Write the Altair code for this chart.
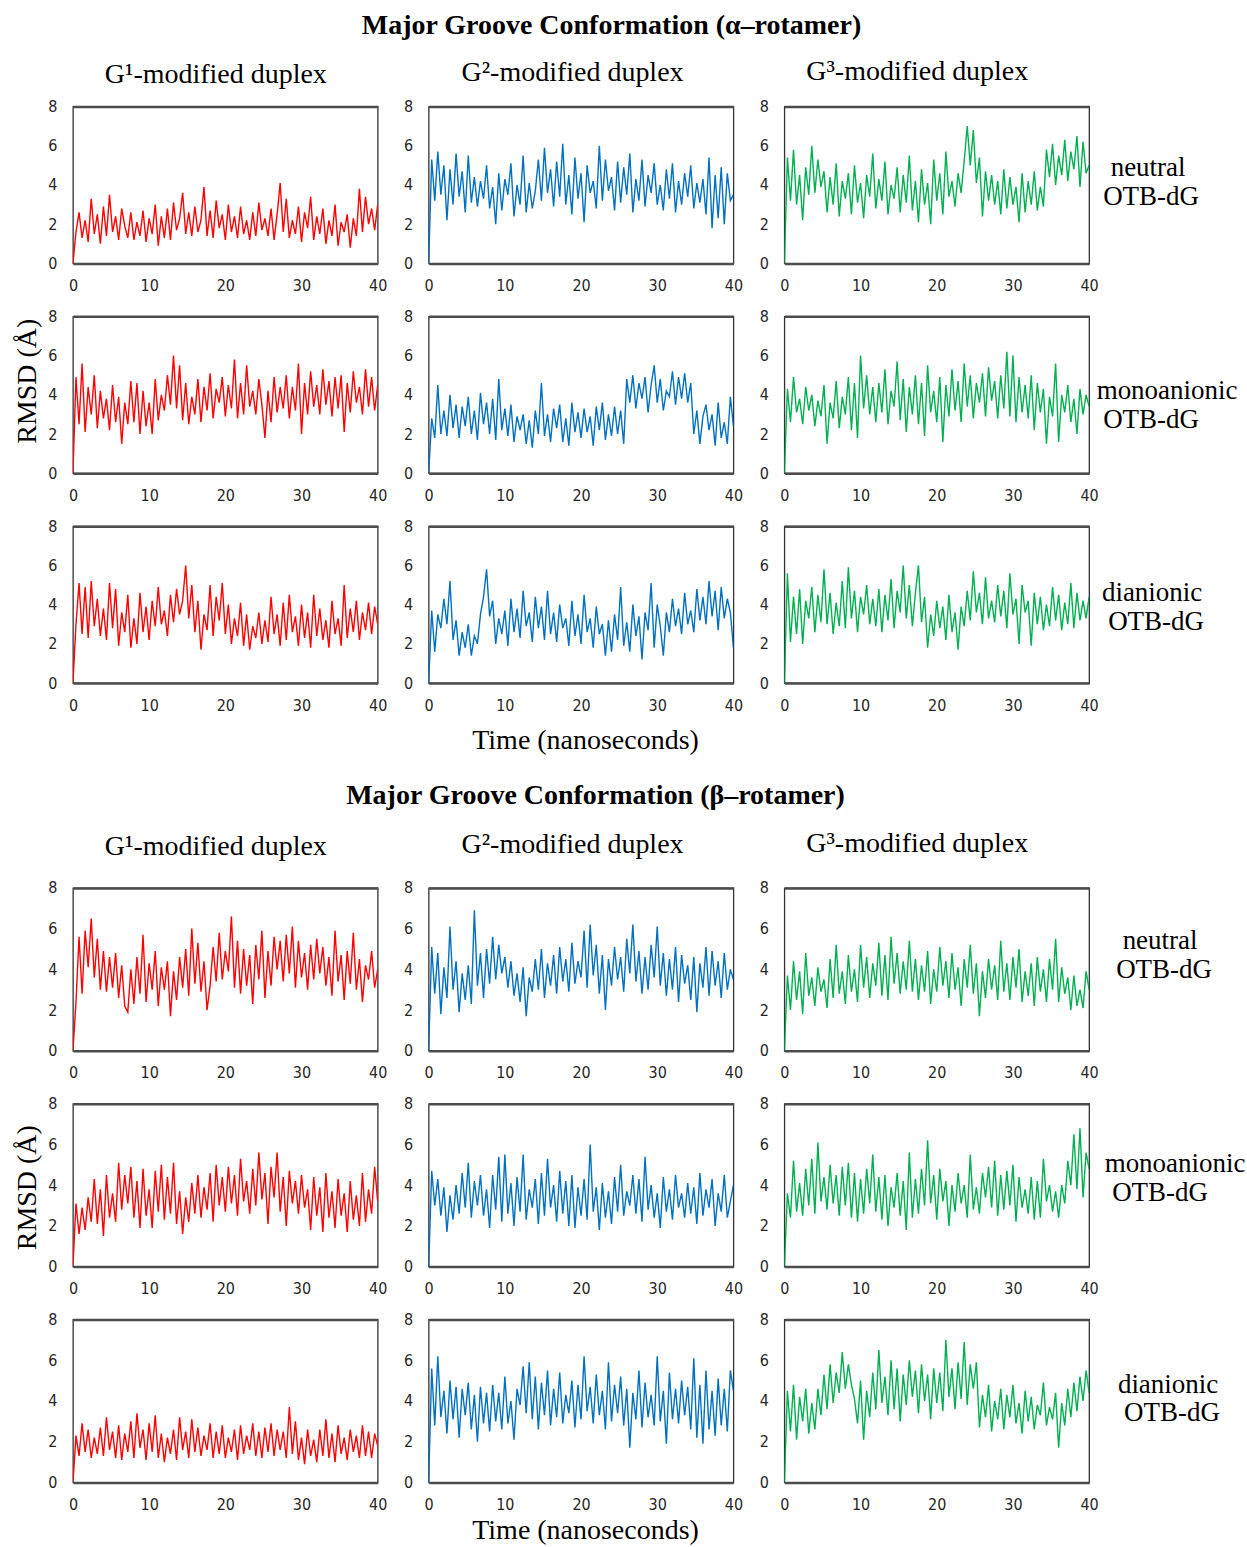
import altair as alt
import pandas as pd

SERIF = "Liberation Serif, Times New Roman, serif"
SANS = "Liberation Sans Narrow, DejaVu Sans Condensed, sans-serif"

TITLES = ["Major Groove Conformation (α–rotamer)", "Major Groove Conformation (β–rotamer)"]
COLUMN_HEADERS = ["G¹-modified duplex", "G²-modified duplex", "G³-modified duplex"]
ROW_LABELS = [("neutral", "OTB-dG"), ("monoanionic", "OTB-dG"), ("dianionic", "OTB-dG")]
COLORS = ["#FF0000", "#0070C0", "#00B050"]
X_TICKS = [0, 10, 20, 30, 40]
Y_TICKS = [0, 2, 4, 6, 8]
X_TITLE = "Time (nanoseconds)"
Y_TITLE = "RMSD (Å)"

# ---- alpha rotamer: RMSD samples (0..40 ns, evenly spaced) ----
A_G1_NEU = [0,
    1.6, 2.6, 1.3, 2.2, 1.1, 3.3, 1.5, 2.5, 1.0, 2.9,
    1.4, 3.5, 1.6, 2.4, 1.2, 2.8, 1.9, 1.3, 2.6, 1.2,
    2.1, 1.4, 2.7, 1.1, 2.3, 1.5, 3.0, 0.9, 2.4, 1.3,
    2.8, 1.2, 3.1, 1.7, 2.3, 3.6, 1.5, 2.6, 1.4, 2.9,
    1.6, 2.2, 3.9, 1.4, 2.7, 1.3, 3.2, 1.8, 2.5, 1.2,
    3.0, 1.6, 2.4, 1.3, 2.9, 1.5, 2.2, 1.2, 2.6, 1.4,
    3.1, 1.7, 2.3, 1.4, 2.8, 1.2, 2.5, 4.1, 1.6, 3.3,
    1.3, 2.2, 1.5, 2.9, 1.1, 2.6, 1.8, 3.4, 1.2, 2.4,
    1.5, 2.8, 1.0, 2.2, 1.4, 3.0, 0.9, 2.1, 1.6, 2.5,
    0.8, 2.3, 1.4, 3.8, 1.6, 3.4, 2.0, 2.8, 1.7, 3.0]
A_G2_NEU = [0,
    5.3, 3.2, 5.7, 3.5, 5.0, 2.2, 4.8, 3.0, 5.6, 3.4,
    4.7, 2.6, 5.5, 3.1, 4.4, 2.9, 4.2, 3.3, 5.0, 2.8,
    3.9, 2.0, 4.6, 2.7, 4.3, 3.5, 5.1, 2.4, 4.0, 3.0,
    5.5, 2.6, 4.1, 2.8, 3.7, 5.3, 3.2, 5.9, 3.6, 4.8,
    2.9, 5.2, 3.4, 6.1, 3.0, 4.5, 2.5, 5.4, 3.3, 4.6,
    2.1, 5.0, 3.6, 4.2, 2.8, 6.0, 3.2, 5.3, 3.7, 4.4,
    2.7, 5.2, 3.1, 4.9, 3.5, 5.6, 2.6, 4.3, 3.2, 5.3,
    2.9, 4.5, 3.6, 5.1, 3.0, 4.0, 2.7, 4.8, 3.3, 5.1,
    2.6, 4.2, 3.0, 4.6, 3.4, 5.0, 2.8, 4.1, 3.1, 4.3,
    2.5, 5.4, 1.8, 4.5, 2.3, 4.9, 2.0, 4.6, 3.2, 3.5]
A_G3_NEU = [0,
    5.4, 3.2, 5.8, 3.0, 4.5, 2.2, 4.9, 3.5, 6.0, 3.6,
    5.3, 3.9, 4.7, 2.6, 4.4, 3.0, 5.1, 2.4, 4.2, 3.3,
    4.6, 2.5, 5.0, 3.1, 4.1, 2.3, 4.5, 3.4, 5.6, 2.8,
    4.3, 3.2, 5.2, 2.5, 4.0, 3.3, 4.9, 2.6, 4.5, 3.1,
    5.5, 2.7, 4.2, 2.1, 4.8, 3.0, 4.1, 2.0, 5.3, 3.2,
    4.6, 2.5, 5.7, 3.4, 4.2, 2.9, 4.6, 3.6, 5.2, 7.0,
    5.0, 6.8, 4.1, 5.4, 2.4, 4.7, 3.2, 4.5, 3.0, 4.2,
    2.5, 4.8, 2.8, 4.4, 3.0, 3.9, 2.1, 4.6, 2.6, 4.2,
    3.0, 4.7, 2.7, 3.9, 2.9, 5.8, 4.4, 6.1, 4.0, 5.5,
    4.5, 6.3, 4.2, 5.7, 4.8, 6.5, 3.9, 6.2, 4.6, 5.0]
A_G1_MONO = [0,
    4.9, 2.5, 5.6, 2.1, 4.4, 3.0, 5.0, 2.3, 4.2, 2.8,
    3.8, 2.2, 4.5, 2.6, 3.9, 1.5, 3.6, 2.5, 4.7, 2.6,
    4.6, 2.0, 4.2, 2.4, 3.6, 2.0, 4.8, 2.7, 4.0, 3.2,
    5.0, 3.5, 6.0, 3.3, 5.5, 2.7, 4.6, 2.5, 3.9, 3.0,
    4.8, 2.6, 4.4, 3.2, 5.1, 2.8, 4.3, 3.6, 4.9, 2.9,
    4.5, 3.3, 5.8, 2.8, 4.6, 3.0, 5.5, 3.4, 4.2, 3.0,
    4.8, 3.5, 1.8, 4.2, 2.6, 4.9, 3.1, 4.4, 3.3, 5.0,
    2.8, 4.4, 3.2, 5.6, 2.0, 4.6, 3.0, 5.2, 3.4, 4.5,
    3.0, 5.3, 3.5, 4.7, 2.9, 4.9, 3.3, 5.0, 2.1, 4.6,
    3.1, 5.2, 3.6, 4.4, 3.0, 5.3, 3.4, 4.9, 3.2, 4.5]
A_G2_MONO = [0,
    2.8, 1.8, 4.5, 2.0, 3.2, 1.9, 4.0, 2.3, 3.5, 1.8,
    3.4, 2.4, 3.9, 2.0, 3.2, 1.7, 4.1, 2.5, 3.6, 2.0,
    3.8, 1.7, 4.8, 2.2, 3.3, 1.9, 3.5, 1.6, 2.9, 2.2,
    3.0, 1.5, 2.7, 1.3, 3.2, 2.0, 4.6, 1.9, 3.0, 1.6,
    3.3, 2.3, 3.5, 1.6, 2.8, 1.4, 3.6, 2.1, 3.1, 1.8,
    3.3, 2.1, 2.9, 1.4, 3.4, 2.2, 3.6, 1.7, 3.0, 1.9,
    3.4, 2.0, 3.2, 1.5, 4.8, 3.6, 5.0, 3.3, 4.6, 3.8,
    4.9, 3.1, 4.5, 5.5, 3.6, 4.8, 3.2, 4.2, 3.9, 5.2,
    3.5, 4.9, 3.8, 5.1, 3.6, 4.6, 2.0, 3.2, 1.5, 2.9,
    3.5, 2.2, 3.0, 1.4, 3.6, 1.8, 2.6, 1.5, 3.9, 2.4]
A_G3_MONO = [0,
    4.3, 2.6, 4.9, 3.1, 3.8, 2.5, 4.4, 3.2, 4.0, 2.4,
    3.7, 2.9, 4.5, 1.5, 3.6, 2.8, 4.7, 2.3, 3.9, 3.0,
    4.9, 2.2, 4.6, 1.8, 6.0, 3.3, 5.0, 3.0, 4.4, 2.6,
    4.6, 3.1, 5.3, 2.5, 4.2, 3.4, 5.7, 2.7, 4.8, 2.1,
    4.4, 3.0, 5.0, 2.5, 4.6, 1.9, 5.5, 3.1, 4.2, 2.6,
    4.9, 1.6, 4.5, 2.9, 5.3, 3.2, 4.7, 2.6, 5.6, 3.4,
    5.0, 2.8, 4.6, 3.6, 5.1, 2.9, 5.4, 3.7, 4.7, 2.8,
    5.0, 3.3, 6.2, 2.9, 6.0, 2.6, 4.9, 3.1, 4.5, 2.8,
    5.0, 2.2, 4.6, 3.1, 4.3, 1.5, 3.9, 2.9, 5.6, 1.6,
    4.0, 3.1, 4.5, 2.6, 3.8, 2.0, 4.3, 3.0, 4.0, 3.4]
A_G1_DI = [0,
    3.0, 5.1, 2.5, 4.9, 2.3, 5.2, 2.9, 4.3, 2.4, 3.8,
    2.2, 5.1, 2.8, 4.8, 1.9, 3.6, 2.6, 4.5, 1.8, 3.3,
    2.0, 4.6, 2.6, 3.9, 2.2, 4.2, 2.9, 4.9, 3.0, 3.7,
    2.4, 4.5, 3.1, 4.8, 3.5, 4.2, 6.0, 3.3, 5.0, 2.6,
    4.2, 1.7, 3.5, 2.7, 5.0, 2.4, 4.4, 3.2, 5.1, 2.5,
    4.0, 2.0, 3.3, 2.4, 4.1, 1.9, 3.5, 1.7, 2.9, 2.3,
    3.6, 2.0, 3.2, 2.1, 4.4, 2.5, 3.5, 1.9, 4.1, 2.2,
    4.5, 2.6, 3.4, 1.9, 4.0, 2.3, 3.6, 1.8, 4.5, 2.4,
    3.8, 2.2, 3.2, 1.8, 4.2, 2.5, 3.3, 1.9, 5.0, 2.3,
    3.8, 2.6, 4.2, 2.2, 3.6, 2.7, 4.1, 2.5, 3.9, 3.0]
A_G2_DI = [0,
    3.7, 1.6, 3.5, 2.8, 4.3, 3.0, 5.2, 2.2, 3.2, 1.4,
    2.6, 1.8, 3.0, 1.4, 2.4, 2.0, 3.5, 4.4, 5.8, 3.4,
    4.2, 2.0, 3.3, 2.5, 3.7, 1.9, 4.3, 2.6, 3.8, 2.3,
    4.7, 2.9, 3.6, 2.1, 4.4, 2.8, 3.9, 2.2, 4.7, 2.5,
    3.6, 2.1, 4.0, 2.8, 3.3, 1.9, 4.2, 2.4, 3.5, 2.0,
    4.5, 2.6, 3.3, 1.8, 3.9, 2.5, 3.0, 1.4, 3.2, 1.6,
    3.5, 2.2, 4.9, 1.9, 3.1, 1.6, 4.0, 2.4, 3.4, 1.2,
    3.6, 2.7, 5.1, 1.8, 4.0, 2.9, 1.4, 3.6, 2.6, 4.3,
    2.9, 3.8, 2.5, 4.6, 3.0, 3.7, 2.6, 4.8, 3.2, 4.4,
    3.0, 5.2, 3.4, 4.7, 2.7, 4.9, 3.3, 4.3, 3.6, 1.8]
A_G3_DI = [0,
    5.6, 2.1, 4.4, 2.5, 4.8, 2.0, 4.2, 3.3, 4.9, 2.6,
    4.5, 3.1, 5.8, 3.0, 4.6, 2.5, 4.1, 2.9, 5.2, 2.8,
    5.9, 3.3, 4.7, 2.6, 4.4, 3.5, 5.0, 3.0, 4.3, 2.9,
    4.8, 2.6, 4.5, 3.2, 5.3, 2.8, 4.7, 3.6, 6.0, 3.3,
    5.0, 2.9, 4.6, 6.0, 3.1, 4.4, 1.8, 3.5, 2.4, 4.2,
    2.8, 3.9, 2.2, 4.5, 2.6, 3.6, 1.7, 3.9, 2.9, 4.7,
    3.2, 5.7, 3.6, 4.6, 3.0, 5.4, 3.3, 4.2, 3.1, 5.0,
    3.4, 4.7, 2.8, 5.6, 3.5, 4.3, 2.0, 5.0, 3.6, 4.2,
    1.9, 4.6, 3.0, 4.4, 2.7, 4.0, 2.9, 4.9, 3.2, 4.5,
    2.7, 4.1, 3.0, 5.1, 2.8, 4.6, 3.2, 4.2, 3.3, 4.4]

# ---- beta rotamer ----
B_G1_NEU = [0,
    2.4, 5.6, 2.8, 5.9, 4.1, 6.5, 3.6, 5.5, 3.0, 4.9,
    2.9, 4.6, 3.1, 4.8, 2.6, 4.2, 2.2, 1.9, 4.0, 2.3,
    4.6, 2.8, 5.7, 2.4, 4.3, 3.0, 4.9, 2.2, 4.1, 3.0,
    4.4, 1.7, 3.9, 2.5, 4.6, 3.1, 5.0, 2.7, 6.0, 3.3,
    5.3, 2.9, 4.4, 2.0, 3.2, 5.1, 3.4, 5.8, 3.5, 4.9,
    3.9, 6.6, 3.1, 5.4, 2.8, 5.0, 3.2, 4.7, 2.3, 5.2,
    3.5, 5.9, 2.6, 4.9, 3.2, 5.6, 4.0, 5.4, 3.4, 5.7,
    3.8, 6.1, 3.1, 5.4, 3.6, 4.8, 3.0, 5.2, 3.5, 5.5,
    3.8, 5.1, 3.2, 4.6, 2.7, 5.9, 3.4, 4.7, 2.5, 4.9,
    3.3, 5.8, 3.0, 4.5, 2.4, 4.2, 3.5, 4.9, 3.1, 4.0]
B_G2_NEU = [0,
    5.1, 2.8, 4.8, 1.8, 4.1, 2.6, 6.1, 3.0, 4.4, 1.9,
    3.8, 2.5, 4.2, 2.3, 6.9, 3.2, 4.8, 2.6, 5.0, 3.3,
    5.6, 3.5, 5.2, 3.8, 4.6, 3.1, 4.4, 2.7, 3.8, 2.4,
    4.1, 1.7, 3.6, 2.9, 4.5, 3.0, 5.0, 2.6, 4.3, 3.2,
    4.7, 2.8, 5.1, 3.4, 4.5, 2.9, 5.3, 3.3, 4.4, 3.6,
    5.9, 3.1, 6.2, 3.7, 5.2, 2.8, 4.7, 2.0, 4.5, 3.2,
    5.1, 3.5, 4.6, 2.9, 5.5, 3.8, 6.2, 3.4, 4.9, 2.8,
    4.6, 3.0, 5.2, 3.6, 6.1, 3.2, 4.8, 2.7, 4.5, 3.0,
    5.1, 2.4, 4.7, 3.3, 4.2, 2.5, 4.6, 1.9, 4.3, 3.1,
    5.1, 2.7, 4.9, 3.2, 4.4, 2.6, 4.8, 3.0, 4.0, 3.5]
B_G3_NEU = [0,
    3.7, 2.0, 4.4, 2.5, 3.9, 1.8, 4.8, 2.7, 3.6, 2.2,
    4.1, 2.9, 3.5, 2.1, 4.5, 2.6, 5.2, 2.8, 3.9, 2.3,
    4.7, 2.9, 4.0, 2.4, 5.2, 3.1, 4.6, 2.6, 4.3, 3.2,
    5.3, 2.7, 4.7, 2.5, 5.6, 3.3, 4.8, 2.8, 4.4, 3.0,
    5.4, 2.9, 4.5, 2.5, 4.2, 2.9, 4.9, 2.3, 4.0, 2.9,
    5.1, 3.2, 4.4, 2.6, 4.8, 3.0, 4.1, 2.2, 4.5, 3.1,
    5.2, 2.8, 4.3, 1.7, 3.9, 2.6, 4.5, 3.0, 4.2, 2.5,
    5.4, 2.9, 4.3, 2.5, 4.6, 3.1, 5.0, 2.4, 3.9, 2.7,
    4.3, 2.2, 4.6, 2.9, 4.0, 2.4, 4.5, 3.0, 5.5, 2.4,
    4.1, 2.8, 3.6, 2.0, 3.7, 2.2, 3.0, 2.1, 3.9, 3.0]
B_G1_MONO = [0,
    3.1, 1.6, 2.9, 1.8, 3.4, 2.2, 4.3, 2.1, 3.8, 1.5,
    4.5, 2.4, 3.6, 2.2, 5.1, 2.8, 4.5, 3.1, 4.9, 2.4,
    4.2, 1.9, 4.8, 2.5, 3.8, 1.9, 4.7, 2.7, 5.0, 2.3,
    4.4, 2.6, 5.1, 2.1, 3.7, 1.6, 3.4, 2.2, 4.1, 2.6,
    4.5, 2.4, 3.9, 2.8, 4.6, 2.2, 5.0, 3.0, 4.4, 2.7,
    4.9, 3.1, 4.5, 2.5, 5.3, 3.2, 4.2, 2.6, 4.8, 3.0,
    5.6, 3.3, 4.6, 2.1, 4.9, 3.4, 5.6, 2.7, 4.4, 2.0,
    4.7, 3.1, 4.2, 2.6, 4.5, 2.9, 3.8, 1.8, 4.4, 2.5,
    3.9, 1.7, 4.6, 2.4, 3.7, 1.9, 4.3, 2.5, 3.6, 1.7,
    4.2, 2.3, 3.5, 2.0, 4.6, 2.2, 3.8, 2.6, 4.9, 3.2]
B_G2_MONO = [0,
    4.7, 3.0, 4.3, 2.5, 3.9, 1.7, 3.5, 2.3, 4.0, 2.6,
    4.6, 2.9, 5.1, 2.4, 4.2, 3.0, 4.5, 2.5, 3.8, 1.9,
    4.5, 2.8, 5.4, 2.2, 5.5, 2.6, 4.1, 2.0, 4.4, 2.7,
    5.5, 2.3, 3.8, 2.9, 4.3, 2.1, 4.6, 2.5, 5.3, 2.9,
    4.0, 2.2, 4.7, 2.6, 4.2, 2.0, 4.5, 1.9, 3.9, 2.5,
    4.3, 2.3, 6.0, 2.7, 3.9, 1.8, 4.1, 2.4, 3.7, 2.1,
    4.4, 2.7, 5.0, 2.5, 3.7, 3.0, 4.5, 2.6, 4.3, 2.2,
    5.4, 2.8, 4.0, 2.4, 3.6, 1.9, 4.4, 2.7, 3.8, 2.3,
    4.5, 2.9, 3.6, 2.4, 4.1, 2.6, 3.9, 2.1, 4.6, 2.5,
    3.8, 2.9, 4.3, 2.0, 3.6, 2.7, 4.5, 2.4, 3.2, 4.0]
B_G3_MONO = [0,
    3.6, 2.4, 5.2, 2.7, 4.1, 2.5, 4.8, 3.0, 5.3, 2.6,
    6.1, 3.2, 4.4, 2.8, 5.0, 3.1, 4.5, 2.5, 4.9, 3.0,
    5.1, 2.4, 4.6, 2.2, 4.3, 2.6, 4.8, 3.1, 5.5, 2.7,
    4.4, 2.3, 4.5, 2.0, 3.9, 2.9, 4.6, 2.5, 4.2, 1.8,
    5.6, 2.4, 4.3, 2.6, 4.8, 3.0, 6.2, 3.1, 4.5, 2.3,
    4.8, 3.2, 4.2, 2.0, 4.0, 2.7, 4.6, 3.1, 4.0, 2.4,
    5.5, 2.8, 3.9, 2.6, 4.6, 3.4, 4.9, 2.9, 5.2, 2.5,
    4.5, 2.8, 4.7, 3.0, 5.0, 2.2, 4.4, 2.9, 3.8, 2.6,
    4.4, 2.3, 4.2, 2.4, 5.3, 3.2, 4.0, 2.7, 3.7, 2.4,
    4.0, 3.1, 5.2, 4.0, 6.5, 3.8, 6.8, 3.4, 5.6, 4.8]
B_G1_DI = [0,
    2.3, 1.3, 2.9, 1.5, 2.6, 1.2, 2.2, 1.4, 2.7, 1.3,
    3.2, 1.6, 2.5, 1.2, 2.8, 1.1, 2.4, 1.5, 3.0, 1.2,
    3.4, 1.7, 2.6, 1.1, 2.9, 1.5, 3.3, 1.2, 2.4, 1.0,
    2.2, 1.4, 2.6, 1.1, 3.2, 1.6, 2.5, 1.2, 3.1, 1.5,
    2.7, 1.3, 2.3, 1.6, 2.9, 1.2, 2.5, 1.4, 2.8, 1.2,
    2.2, 1.5, 2.6, 1.1, 2.8, 1.4, 2.3, 1.6, 2.9, 1.3,
    2.5, 1.2, 2.7, 1.5, 2.9, 1.3, 2.6, 1.6, 2.5, 1.2,
    3.7, 1.4, 3.0, 1.1, 2.2, 0.9, 2.6, 1.3, 2.1, 1.0,
    2.6, 1.3, 3.1, 1.2, 2.4, 1.0, 2.8, 1.4, 2.2, 1.1,
    2.6, 1.5, 2.3, 1.2, 2.8, 1.3, 2.5, 1.2, 2.4, 1.8]
B_G2_DI = [0,
    5.6, 2.8, 6.2, 3.2, 4.5, 2.4, 5.0, 3.1, 4.7, 2.2,
    4.6, 3.3, 4.9, 2.6, 4.3, 2.0, 4.7, 2.9, 4.4, 2.5,
    4.8, 3.0, 4.4, 2.6, 5.2, 2.9, 4.0, 2.1, 4.6, 3.8,
    5.7, 3.4, 5.9, 3.1, 5.2, 2.6, 4.9, 3.3, 5.5, 2.8,
    4.6, 3.2, 5.4, 2.9, 4.3, 3.4, 5.0, 2.7, 4.8, 3.1,
    6.2, 3.5, 4.7, 2.9, 5.3, 3.3, 4.5, 2.6, 5.9, 3.0,
    4.8, 3.4, 5.2, 2.8, 4.6, 1.7, 4.4, 3.1, 5.5, 2.7,
    4.9, 3.2, 4.3, 2.8, 6.2, 3.0, 4.5, 1.9, 5.4, 3.1,
    4.6, 2.9, 5.0, 3.3, 4.7, 2.6, 6.1, 2.2, 4.8, 1.9,
    5.5, 2.6, 4.5, 2.3, 5.1, 2.8, 4.6, 2.5, 5.5, 4.5]
B_G3_DI = [0,
    4.5, 2.5, 4.8, 2.1, 4.2, 3.0, 4.6, 2.4, 3.9, 2.6,
    4.6, 3.3, 5.3, 3.6, 5.8, 3.9, 5.4, 4.4, 6.4, 4.6,
    5.8, 4.8, 4.1, 2.9, 5.0, 2.1, 4.5, 3.2, 5.4, 3.6,
    6.5, 3.9, 5.2, 3.3, 6.0, 3.6, 5.6, 3.0, 5.3, 3.8,
    6.0, 4.2, 5.5, 3.4, 5.8, 4.0, 5.3, 3.1, 5.6, 3.9,
    5.4, 3.5, 7.0, 4.2, 5.6, 3.6, 5.9, 4.1, 6.9, 3.8,
    5.8, 4.6, 5.9, 2.7, 4.3, 3.2, 4.8, 2.5, 4.0, 3.1,
    4.6, 2.6, 4.3, 3.2, 4.8, 2.9, 3.9, 2.4, 4.5, 3.0,
    4.2, 2.6, 3.8, 3.3, 4.9, 2.8, 3.7, 3.1, 4.4, 1.7,
    3.9, 2.8, 4.6, 3.2, 4.9, 3.5, 5.2, 4.0, 5.5, 4.4]

ALPHA = [[A_G1_NEU, A_G2_NEU, A_G3_NEU],
         [A_G1_MONO, A_G2_MONO, A_G3_MONO],
         [A_G1_DI, A_G2_DI, A_G3_DI]]
BETA = [[B_G1_NEU, B_G2_NEU, B_G3_NEU],
        [B_G1_MONO, B_G2_MONO, B_G3_MONO],
        [B_G1_DI, B_G2_DI, B_G3_DI]]

PW = 305          # panel plot width
LW = 21           # left (y-title) column width
RW = 100          # right (row label) column width
GAP_X = 51
GAP_Y = 53
HA = 157
HB = 163
LABEL_SIZE = 27
LINE_GAP = 29
DUMMY = pd.DataFrame({"k": [0]})


def panel(vals, color, h):
    n = len(vals)
    df = pd.DataFrame({"time": [40.0 * i / (n - 1) for i in range(n)], "rmsd": vals})
    return alt.Chart(df).mark_line(color=color, strokeWidth=1.4, clip=True).encode(
        x=alt.X("time:Q", scale=alt.Scale(domain=[0, 40], nice=False),
                axis=alt.Axis(values=X_TICKS, title=None, grid=False, ticks=False,
                              domain=False, labelPadding=14, labelFlush=False)),
        y=alt.Y("rmsd:Q", scale=alt.Scale(domain=[0, 8], nice=False),
                axis=alt.Axis(values=Y_TICKS, title=None, ticks=False, domain=False,
                              labelPadding=16, grid=True, gridColor="#4d4d4d", gridWidth=2.5,
                              gridOpacity=alt.condition("datum.value == 0 || datum.value == 8",
                                                        alt.value(1), alt.value(0)))),
    ).properties(width=PW, height=h)


def text_cell(width, height, items):
    if not items:
        items = [("", width / 2, height / 2, 10, False, 0)]
    layers = []
    for txt, x, y, size, bold, angle in items:
        kw = dict(text=txt, font=SERIF, fontSize=size, align="center",
                  baseline="middle", color="black")
        if bold:
            kw["fontWeight"] = "bold"
        if angle:
            kw["angle"] = angle
        layers.append(alt.Chart(DUMMY).mark_text(**kw).encode(x=alt.value(x), y=alt.value(y)))
    return alt.layer(*layers).properties(
        width=width, height=height, view=alt.ViewBackground(stroke="transparent"))


def panel_row(series3, h, labels, label_pos, ylabel_y=None):
    if ylabel_y is not None:
        left = text_cell(LW, h, [(Y_TITLE, 27, ylabel_y, 28, False, 270)])
    else:
        left = text_cell(LW, h, [])
    panels = [panel(v, c, h) for v, c in zip(series3, COLORS)]
    (x1, y1), x2 = label_pos
    lab = text_cell(RW, h, [(labels[0], x1, y1, LABEL_SIZE, False, 0),
                            (labels[1], x2, y1 + LINE_GAP, LABEL_SIZE, False, 0)])
    return [left] + panels + [lab]


def header_row(h, title=None, title_x=None, title_y=None, head_y=None, time_y=None):
    c1, c2, c3 = [], [], []
    if head_y is not None:
        c1.append((COLUMN_HEADERS[0], 143, head_y + 2, 28, False, 0))
        c2.append((COLUMN_HEADERS[1], 144, head_y, 28, False, 0))
        c3.append((COLUMN_HEADERS[2], 133, head_y - 1, 28, False, 0))
    if time_y is not None:
        c2.append((X_TITLE, 157, time_y, 28, False, 0))
    if title is not None:
        c2.append((title, title_x, title_y, 28, True, 0))
    return [text_cell(LW, h, []), text_cell(PW, h, c1), text_cell(PW, h, c2),
            text_cell(PW, h, c3), text_cell(RW, h, [])]


cells = []
cells += header_row(52, title=TITLES[0], title_x=183, title_y=24, head_y=71)
cells += panel_row(ALPHA[0], HA, ROW_LABELS[0], [(8, 62), 11])
cells += panel_row(ALPHA[1], HA, ROW_LABELS[1], [(27, 75), 11], ylabel_y=65)
cells += panel_row(ALPHA[2], HA, ROW_LABELS[2], [(12, 67), 16])
cells += header_row(99, title=TITLES[1], title_x=167, title_y=60, head_y=109, time_y=5)
cells += panel_row(BETA[0], HB, ROW_LABELS[0], [(20, 53), 24])
cells += panel_row(BETA[1], HB, ROW_LABELS[1], [(35, 60), 20], ylabel_y=84)
cells += panel_row(BETA[2], HB, ROW_LABELS[2], [(28, 65), 32])
cells += header_row(12, time_y=-4)

chart = alt.concat(
    *cells, columns=5, spacing=alt.RowColnumber(row=GAP_Y, column=GAP_X),
    bounds="flush", align="each"
).properties(
    padding=0, background="white"
).configure_view(
    stroke="#333333", strokeWidth=1.3
).configure_axis(
    labelFont=SANS, labelFontSize=16, labelColor="#262626"
)

chart.save("out.html", embed_options={"renderer": "svg", "actions": False})
